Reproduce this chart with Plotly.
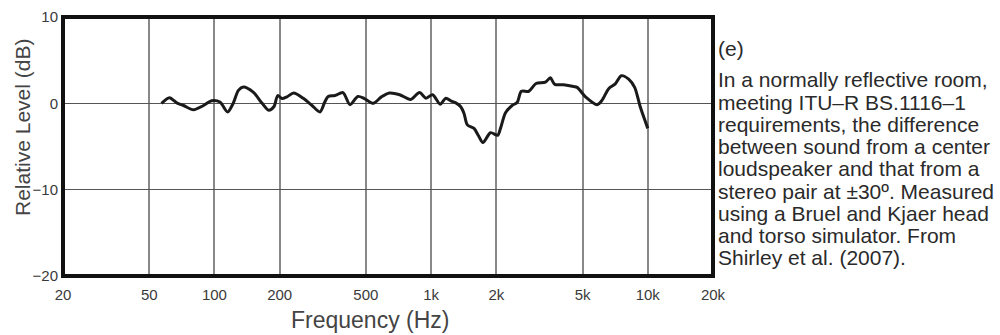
import plotly.graph_objects as go

# Data
freq_hz = [57, 62, 67, 72, 80, 89, 97, 106, 115, 122, 129, 136, 151, 166, 178, 188, 196, 205,
           216, 232, 258, 282, 307, 323, 335, 360, 392, 422, 459, 492, 541, 590, 642, 716,
           805, 884, 948, 1016, 1101, 1170, 1240, 1300, 1370, 1420, 1470, 1578, 1650, 1735,
           1880, 2030, 2090, 2205, 2365, 2495, 2610, 2825, 3050, 3370, 3550, 3720, 4090,
           4550, 4720, 5160, 5840, 6150, 6600, 7080, 7550, 8160, 8700, 9230, 10000]
level_db = [0.0, 0.65, 0.05, -0.25, -0.75, -0.25, 0.3, 0.15, -1.0, 0.0, 1.5, 1.9, 1.3, 0.0,
            -0.8, -0.4, 0.9, 0.55, 0.75, 1.2, 0.55, -0.25, -1.0, 0.15, 0.8, 0.9, 1.25, -0.15,
            0.8, 0.55, 0.0, 0.75, 1.2, 1.0, 0.45, 1.25, 0.6, 1.0, -0.1, 0.6, 0.25, 0.05, -0.4,
            -1.2, -2.5, -2.9, -3.7, -4.55, -3.4, -3.7, -2.9, -1.1, -0.25, 0.1, 1.4, 1.4, 2.3,
            2.45, 2.95, 2.2, 2.15, 1.95, 1.85, 0.75, -0.15, 0.35, 1.7, 2.25, 3.2, 2.8, 1.85,
            -0.4, -2.9]

x_tick_vals = [20, 50, 100, 200, 500, 1000, 2000, 5000, 10000, 20000]
x_tick_text = ["20", "50", "100", "200", "500", "1k", "2k", "5k", "10k", "20k"]
y_tick_vals = [10, 0, -10, -20]

caption_head = "(e)"
caption_lines = [
    "In a normally reflective room,",
    "meeting ITU\u2013R BS.1116\u20131",
    "requirements, the difference",
    "between sound from a center",
    "loudspeaker and that from a",
    "stereo pair at \u00b130\u00ba. Measured",
    "using a Bruel and Kjaer head",
    "and torso simulator. From",
    "Shirley et al. (2007).",
]

NARROW = "Liberation Sans Narrow, Arial Narrow, Liberation Sans, sans-serif"
SANS = "Liberation Sans, Arial, sans-serif"

W, H = 1000, 335
L, R, T, B = 63, 713, 17, 276

fig = go.Figure()
fig.add_trace(go.Scatter(
    x=freq_hz, y=level_db, mode="lines",
    line=dict(color="#1a1a1a", width=3, shape="spline", smoothing=0.8),
    hoverinfo="skip", showlegend=False,
))

fig.update_layout(
    width=W, height=H,
    margin=dict(l=L, r=W - R, t=T, b=H - B, pad=0),
    paper_bgcolor="white", plot_bgcolor="white",
    font=dict(family=SANS, color="#333"),
    showlegend=False,
)
fig.update_xaxes(
    type="log", range=[1.30103, 4.30103],
    tickvals=x_tick_vals, ticktext=x_tick_text,
    tickfont=dict(family=NARROW, size=15, color="#3a3a3a"),
    showgrid=True, gridcolor="#888", gridwidth=1.5,
    zeroline=False, showline=False, ticks="", ticklabelstandoff=8,
    automargin=False,
)
fig.update_yaxes(
    range=[-20, 10], tickvals=y_tick_vals,
    tickfont=dict(family=SANS, size=15, color="#3a3a3a"),
    showgrid=True, gridcolor="#555", gridwidth=1,
    zeroline=False, showline=False, ticks="", ticklabelstandoff=4,
    automargin=False,
)

# frame
fig.add_shape(type="rect", xref="paper", yref="paper", x0=0, x1=1, y0=0, y1=1,
              line=dict(color="#111", width=4), layer="above")

pw, ph = R - L, B - T

def px(xp):
    return (xp - L) / pw

def py(yp):
    return (B - yp) / ph

# axis titles
fig.add_annotation(text="Relative Level (dB)", xref="paper", yref="paper",
                   x=px(22), y=py(128), textangle=-90, showarrow=False,
                   xanchor="center", yanchor="middle",
                   font=dict(family=SANS, size=21, color="#444"))
fig.add_annotation(text="Frequency (Hz)", xref="paper", yref="paper",
                   x=px(370), y=py(320), showarrow=False,
                   xanchor="center", yanchor="middle",
                   font=dict(family=NARROW, size=23, color="#444"))

# caption
fig.add_annotation(text=caption_head, xref="paper", yref="paper",
                   x=px(716), y=py(48), showarrow=False,
                   xanchor="left", yanchor="middle",
                   font=dict(family=SANS, size=21, color="#2a2a2a"))
for i, line in enumerate(caption_lines):
    fig.add_annotation(text=line, xref="paper", yref="paper",
                       x=px(716), y=py(80 + 22.2 * i), showarrow=False,
                       xanchor="left", yanchor="middle",
                       font=dict(family=SANS, size=21, color="#2a2a2a"))

post = ("var gd=document.getElementById('{plot_id}');"
        "document.body.style.margin='0';document.body.style.padding='0';"
        "gd.style.position='fixed';gd.style.left='0px';gd.style.top='0px';")

fig.write_html("out.html", post_script=post, config={"displayModeBar": False})
